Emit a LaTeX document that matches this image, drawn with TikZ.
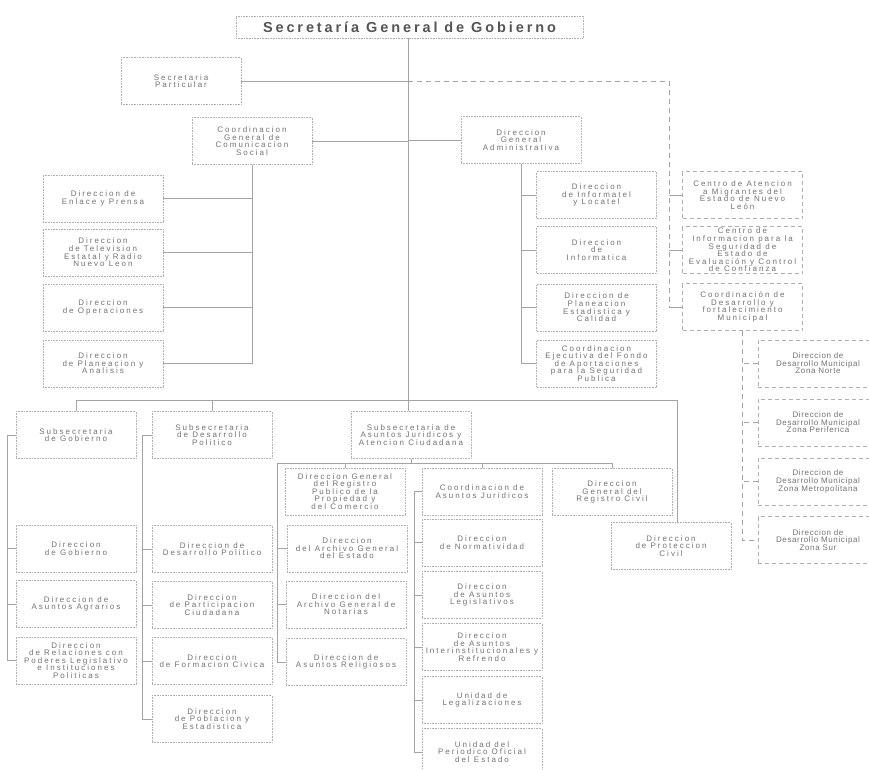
\documentclass[tikz,border=0pt]{standalone}
\usepackage{fontspec}
\setmainfont{Liberation Sans}
\newfontfamily\orgboxfont[LetterSpace=25]{Liberation Sans}
\newfontfamily\orgnarrowfont[LetterSpace=8]{Liberation Sans}
\newfontfamily\orgttlfont[LetterSpace=20]{Liberation Sans}
\definecolor{txtg}{HTML}{737373}
\definecolor{ttlg}{HTML}{555555}
\definecolor{boxg}{HTML}{B0B0B0}
\definecolor{lng}{HTML}{A4A4A4}
\begin{document}
\begin{tikzpicture}[x=1pt,y=-1pt,
  box/.style={draw=boxg, line width=0.6pt, densely dotted, minimum width=120pt, minimum height=47pt,
    inner sep=0pt, align=center, text=txtg, font=\orgboxfont\fontsize{8}{7.6}\selectfont},
  dbox/.style={box, dash pattern=on 4pt off 3pt},
  nbox/.style={dbox, font=\orgnarrowfont\fontsize{8}{7.6}\selectfont},
  ttl/.style={draw=boxg, line width=0.6pt, densely dotted, minimum width=347pt, minimum height=22pt,
    inner sep=0pt, text=ttlg, font=\orgttlfont\bfseries\fontsize{14.5}{16}\selectfont},
  ln/.style={draw=lng, line width=0.5pt},
  dln/.style={draw=lng, line width=0.6pt, dash pattern=on 5pt off 4pt}]
\useasboundingbox (0,0) rectangle (869,769);
\clip (0,0) rectangle (869,769);
\fill[white] (0,0) rectangle (869,769);

\coordinate (mx) at (408,0);
\coordinate (dv) at (669,81);
\coordinate (pcx) at (677,400);
\coordinate (gl) at (7,435);
\coordinate (dpl) at (142,0);
\coordinate (ajl) at (277,463);
\coordinate (cjl) at (414,0);

% nodes
\node[ttl] (title) at (409.5,27) {Secretaría General de Gobierno};
\node[box] (secpart) at (181,81) {Secretaria\\Particular};
\node[box] (ccs) at (252,141) {Coordinacion\\General de\\Comunicacion\\Social};
\node[box] (dga) at (521,140) {Direccion\\General\\Administrativa};

\node[box] (enlace) at (103,198.5) {Direccion de\\Enlace y Prensa};
\node[box] (tv) at (103,252.5) {Direccion\\de Television\\Estatal y Radio\\Nuevo Leon};
\node[box] (oper) at (103,307.5) {Direccion\\de Operaciones};
\node[box] (plan) at (103,363.5) {Direccion\\de Planeacion y\\Analisis};

\node[box] (informatel) at (596.5,195) {Direccion\\de Informatel\\y Locatel};
\node[box] (informatica) at (596.5,250) {Direccion\\de\\Informatica};
\node[box] (planest) at (596.5,307.5) {Direccion de\\Planeacion\\Estadistica y\\Calidad};
\node[box] (coordej) at (596.5,363.5) {Coordinacion\\Ejecutiva del Fondo\\de Aportaciones\\para la Seguridad\\Publica};

\node[dbox] (migr) at (742.5,195) {Centro de Atencion\\a Migrantes del\\Estado de Nuevo\\León};
\node[dbox] (cinfo) at (742.5,250) {Centro de\\Informacion para la\\Seguridad de\\Estado de\\Evaluación y Control\\de Confianza};
\node[dbox] (cdes) at (742.5,307) {Coordinación de\\Desarrollo y\\fortalecimiento\\Municipal};

\node[nbox] (znorte) at (818,363.5) {Direccion de\\Desarrollo Municipal\\Zona Norte};
\node[nbox] (zperif) at (818,422.5) {Direccion de\\Desarrollo Municipal\\Zona Periferica};
\node[nbox] (zmetro) at (818,481.5) {Direccion de\\Desarrollo Municipal\\Zona Metropolitana};
\node[nbox] (zsur) at (818,540) {Direccion de\\Desarrollo Municipal\\Zona Sur};

\node[box] (subgob) at (76,435) {Subsecretaria\\de Gobierno};
\node[box] (subdp) at (212,435) {Subsecretaria\\de Desarrollo\\Politico};
\node[box] (subaj) at (411,435) {Subsecretaria de\\Asuntos Juridicos y\\Atencion Ciudadana};

\node[box] (dgob) at (76,548.5) {Direccion\\de Gobierno};
\node[box] (dagr) at (76,604) {Direccion de\\Asuntos Agrarios};
\node[box] (drel) at (76,660.5) {Direccion\\de Relaciones con\\Poderes Legislativo\\e Instituciones\\Politicas};

\node[box] (ddp) at (212,549) {Direccion de\\Desarrollo Politico};
\node[box] (dpart) at (212,605) {Direccion\\de Participacion\\Ciudadana};
\node[box] (dform) at (212,661) {Direccion\\de Formacion Civica};
\node[box] (dpob) at (212,719) {Direccion\\de Poblacion y\\Estadistica};

\node[box] (rpub) at (345,491.5) {Direccion General\\del Registro\\Publico de la\\Propiedad y\\del Comercio};
\node[box] (arch) at (347,548.5) {Direccion\\del Archivo General\\del Estado};
\node[box] (notar) at (346,604.5) {Direccion del\\Archivo General de\\Notarias};
\node[box] (relig) at (346,662) {Direccion de\\Asuntos Religiosos};

\node[box] (caj) at (482,491.5) {Coordinacion de\\Asuntos Juridicos};
\node[box] (norm) at (482,542.5) {Direccion\\de Normatividad};
\node[box] (legis) at (482,595) {Direccion\\de Asuntos\\Legislativos};
\node[box] (inter) at (482,647) {Direccion\\de Asuntos\\Interinstitucionales y\\Refrendo};
\node[box] (legal) at (482,700) {Unidad de\\Legalizaciones};
\node[box] (perio) at (482,752) {Unidad del\\Periodico Oficial\\del Estado};

\node[box] (rcivil) at (612,492) {Direccion\\General del\\Registro Civil};
\node[box] (pcivil) at (671,546) {Direccion\\de Proteccion\\Civil};

% connectors
\draw[ln] (title.south -| mx) -- (subaj.north -| mx);
\draw[ln] (secpart.east) -- (secpart.east -| mx);
\draw[dln] (secpart.east -| mx) -- (dv) -- (dv |- cdes.west);
\foreach \n in {migr,cinfo,cdes} \draw[ln] (dv |- \n.west) -- (\n.west);
\draw[ln] (ccs.east) -- (ccs.east -| mx);
\draw[ln] (dga.west) -- (dga.west -| mx);
\draw[ln] (ccs.south) -- (ccs.south |- plan.east) -- (plan.east);
\foreach \n in {enlace,tv,oper} \draw[ln] (\n.east) -- (\n.east -| ccs.south);
\draw[ln] (dga.south) -- (dga.south |- coordej.west) -- (coordej.west);
\foreach \n in {informatel,informatica,planest} \draw[ln] (\n.west) -- (\n.west -| dga.south);
\draw[dln] (cdes.south) -- (cdes.south |- zsur.west) -- (zsur.west);
\foreach \n in {znorte,zperif,zmetro} \draw[dln] (\n.west) -- (\n.west -| cdes.south);

\draw[ln] (subgob.north) |- (pcx) -- (pcx |- pcivil.north);
\draw[ln] (subdp.north) -- (subdp.north |- pcx);

\draw[ln] (subgob.west) -- (subgob.west -| gl) -- (gl |- drel.west) -- (drel.west);
\foreach \n in {dgob,dagr} \draw[ln] (\n.west) -- (\n.west -| gl);
\draw[ln] (subdp.west) -- (subdp.west -| dpl) -- (dpl |- dpob.west) -- (dpob.west);
\foreach \n in {ddp,dpart,dform} \draw[ln] (\n.west) -- (\n.west -| dpl);

\draw[ln] (relig.west -| ajl) -- (ajl) -| (rcivil.north);
\draw[ln] (relig.west -| ajl) -- (relig.west);
\foreach \n in {arch,notar} \draw[ln] (\n.west) -- (\n.west -| ajl);
\draw[ln] (subaj.south) -- (subaj.south |- ajl);
\draw[ln] (rpub.north) -- (rpub.north |- ajl);
\draw[ln] (caj.north) -- (caj.north |- ajl);
\draw[ln] (caj.west) -- (caj.west -| cjl) -- (cjl |- perio.west) -- (perio.west);
\foreach \n in {norm,legis,inter,legal} \draw[ln] (\n.west) -- (\n.west -| cjl);
\end{tikzpicture}
\end{document}
